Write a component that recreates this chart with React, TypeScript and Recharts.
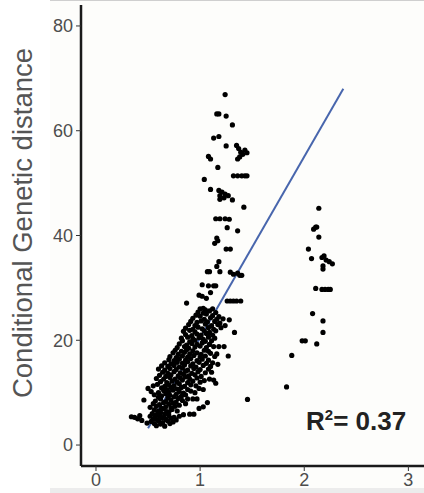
import { ScatterChart, Scatter, XAxis, YAxis, ReferenceLine, Customized } from 'recharts'

// dense lower cluster along the fit line
const lowerCluster: [number, number][] = [
  [0.58, 3.7], [0.62, 4.0], [0.66, 3.6], [0.71, 4.1], [0.49, 4.2], [0.53, 4.5], [0.56, 4.1], [0.6, 4.6], [0.64, 4.3], [0.69, 4.6], [0.74, 4.4],
  [0.4, 5.0], [0.44, 4.7], [0.55, 5.0], [0.59, 4.8], [0.63, 5.2], [0.67, 4.9], [0.72, 5.1], [0.77, 4.8], [0.34, 5.4], [0.37, 5.3],
  [0.42, 5.6], [0.52, 5.5], [0.57, 5.4], [0.61, 5.6], [0.65, 5.3], [0.7, 5.6], [0.75, 5.3], [0.8, 5.5],
  [0.54, 6.0], [0.58, 5.8], [0.62, 6.2], [0.66, 5.9], [0.7, 6.3], [0.84, 5.8], [0.9, 5.9], [0.94, 5.9], [0.56, 6.7], [0.6, 6.5],
  [0.65, 6.9], [0.68, 6.4], [0.73, 6.8], [0.78, 6.5], [0.52, 7.2], [0.58, 7.4], [0.63, 7.0], [0.67, 7.3], [0.72, 7.1], [0.76, 7.4],
  [0.99, 7.0], [1.03, 7.3],
  [0.55, 7.9], [0.61, 7.7], [0.65, 8.1], [0.7, 7.8], [0.74, 8.0], [0.8, 7.6], [0.86, 7.9], [0.46, 8.6], [0.57, 8.4], [0.62, 8.8],
  [0.67, 8.3], [0.72, 8.6], [0.77, 8.2], [0.83, 8.5], [1.07, 8.1], [0.6, 9.1], [0.69, 9.0], [0.75, 9.2], [0.79, 8.9], [0.88, 8.8],
  [0.93, 8.8], [0.97, 8.8],
  [0.56, 9.6], [0.63, 9.4], [0.67, 9.8], [0.71, 9.5], [0.77, 9.7], [0.82, 9.3], [0.86, 9.6], [0.53, 10.2], [0.6, 10.0], [0.65, 10.4],
  [0.7, 10.1], [0.74, 10.5], [0.8, 10.2], [0.84, 9.9], [0.91, 10.3], [0.95, 10.0], [0.5, 10.8], [0.63, 10.9], [0.68, 10.6], [0.72, 11.0],
  [0.78, 10.7], [0.82, 11.0], [0.88, 10.6], [0.99, 10.8], [1.03, 10.6],
  [0.55, 11.3], [0.59, 11.6], [0.66, 11.2], [0.7, 11.5], [0.75, 11.3], [0.8, 11.7], [0.85, 11.2], [0.91, 11.5], [0.96, 11.3], [1.15, 11.8],
  [0.62, 12.1], [0.68, 11.9], [0.73, 12.2], [0.78, 12.0], [0.83, 12.4], [0.88, 11.9], [0.93, 12.2], [1.0, 12.0], [1.04, 12.3], [1.13, 12.4],
  [0.58, 12.7], [0.65, 12.6], [0.71, 12.9], [0.76, 12.6], [0.81, 12.8], [0.86, 13.0], [0.9, 12.6], [0.97, 12.8], [1.09, 12.6],
  [0.61, 13.3], [0.67, 13.1], [0.72, 13.4], [0.79, 13.2], [0.84, 13.5], [0.89, 13.2], [0.95, 13.4], [1.01, 13.1], [0.64, 13.9], [0.69, 13.7],
  [0.75, 14.0], [0.81, 13.8], [0.86, 14.1], [0.92, 13.7], [0.98, 14.0], [1.05, 13.8], [1.11, 13.9], [0.6, 14.5], [0.66, 14.3], [0.71, 14.6],
  [0.77, 14.4], [0.83, 14.7], [0.88, 14.3], [0.94, 14.6], [1.0, 14.4], [1.08, 14.5],
  [0.63, 15.1], [0.69, 15.0], [0.75, 15.2], [0.8, 14.9], [0.85, 15.3], [0.91, 15.1], [0.96, 14.9], [1.03, 15.2], [1.1, 15.0], [0.66, 15.7],
  [0.72, 15.5], [0.78, 15.8], [0.83, 15.6], [0.88, 15.9], [0.93, 15.5], [0.99, 15.8], [1.06, 15.6], [1.12, 15.7], [1.17, 15.4], [0.7, 16.3],
  [0.75, 16.1], [0.8, 16.4], [0.86, 16.2], [0.91, 16.5], [0.97, 16.1], [1.02, 16.4], [1.08, 16.2],
  [0.71, 16.9], [0.77, 16.7], [0.83, 17.0], [0.88, 16.8], [0.94, 17.1], [1.0, 16.8], [1.05, 17.0], [1.14, 16.9], [0.74, 17.6], [0.79, 17.3],
  [0.85, 17.7], [0.9, 17.4], [0.97, 17.6], [1.01, 17.3], [1.1, 17.5], [1.16, 17.4], [0.76, 18.1], [0.82, 17.9], [0.87, 18.2], [0.93, 18.0],
  [1.04, 18.1], [1.08, 17.9],
  [0.78, 18.6], [0.85, 18.8], [0.89, 18.5], [0.95, 18.7], [1.0, 18.9], [1.06, 18.6], [1.13, 18.8], [1.18, 18.8], [1.23, 18.8], [0.8, 19.3],
  [0.87, 19.1], [0.92, 19.4], [0.97, 19.2], [1.02, 19.5], [1.09, 19.2], [0.83, 19.9], [0.9, 19.7], [0.95, 20.0], [1.05, 19.8], [1.11, 19.9],
  [0.82, 20.4], [0.88, 20.6], [0.93, 20.3], [0.99, 20.5], [1.03, 20.2], [1.08, 20.6], [1.14, 20.4], [0.86, 21.1], [0.92, 20.9], [0.97, 21.2],
  [1.01, 21.0], [1.06, 21.3], [1.12, 21.0], [0.84, 21.7], [0.9, 21.9], [0.95, 21.6], [1.04, 21.8], [1.09, 21.5], [1.15, 21.8],
  [0.86, 22.3], [0.93, 22.1], [0.98, 22.5], [1.02, 22.2], [1.08, 22.4], [1.13, 22.1], [1.2, 22.4], [0.89, 23.0], [0.95, 22.8], [1.05, 23.1],
  [1.11, 22.8], [1.17, 23.0], [1.24, 22.8], [0.91, 23.6], [0.97, 23.4], [1.01, 23.7], [1.07, 23.5], [1.14, 23.6], [1.19, 23.3], [0.93, 24.2],
  [1.04, 24.0], [1.1, 24.3], [1.16, 24.0], [1.22, 24.1], [1.28, 23.9], [0.96, 24.8], [1.0, 24.6], [1.06, 25.0], [1.12, 24.7], [1.18, 24.5],
  [0.98, 25.4], [1.03, 25.2], [1.09, 25.6], [1.15, 25.3], [1.0, 26.0], [1.05, 25.8], [1.12, 26.0],
]

// vertical arm above the cluster (x ~1.0-1.45)
const upperArm: [number, number][] = [
  [1.24, 66.9], [1.16, 63.2], [1.18, 63.2], [1.25, 62.8], [1.31, 61.1], [1.13, 58.6], [1.18, 58.9], [1.25, 57.1],
  [1.35, 57.2], [1.37, 56.6], [1.39, 55.9], [1.41, 55.5], [1.38, 55.0], [1.43, 56.3], [1.45, 55.8], [1.36, 54.6],
  [1.08, 55.1], [1.1, 54.6], [1.17, 53.0],
  [1.32, 51.4], [1.36, 51.4], [1.4, 51.4], [1.43, 51.4], [1.45, 51.4],
  [1.04, 50.7], [1.1, 48.8],
  [1.18, 48.6], [1.21, 48.3], [1.19, 47.6], [1.24, 47.9], [1.27, 47.6], [1.19, 46.9], [1.23, 47.2],
  [1.31, 46.8], [1.42, 45.4],
  [1.15, 43.2], [1.19, 43.2], [1.24, 43.2], [1.28, 43.1],
  [1.26, 41.5], [1.36, 40.9], [1.16, 39.5], [1.17, 39.0], [1.14, 38.5],
  [1.25, 37.4], [1.29, 37.4],
  [1.18, 35.0], [1.16, 34.1], [1.19, 33.1], [1.07, 33.1], [1.09, 33.1],
  [1.29, 33.0], [1.32, 32.6], [1.36, 32.8], [1.38, 32.4], [1.4, 32.4],
  [1.02, 30.6], [1.08, 30.4], [1.13, 30.4], [1.15, 30.4], [1.1, 29.1], [0.99, 28.6], [1.02, 28.4], [1.06, 28.0],
  [1.26, 27.5], [1.29, 27.5], [1.32, 27.5], [1.35, 27.5], [1.39, 27.5],
  [0.87, 27.1], [1.03, 26.1],
]

// separate group around x ~2
const rightGroup: [number, number][] = [
  [2.14, 45.2], [2.11, 41.6], [2.12, 41.6], [2.09, 41.2], [2.14, 39.7], [2.04, 37.4], [2.07, 35.6],
  [2.17, 35.8], [2.19, 36.1], [2.21, 35.3], [2.24, 35.0], [2.27, 34.6], [2.18, 34.2], [2.18, 33.6],
  [2.11, 29.9], [2.17, 29.7], [2.2, 29.7], [2.23, 29.7], [2.25, 29.7],
  [2.08, 25.1], [2.18, 23.7], [2.18, 21.5], [1.98, 19.9], [2.01, 19.9], [2.12, 19.3], [1.88, 17.1], [1.83, 11.1],
]

const outliers: [number, number][] = [[1.455, 8.7], [1.33, 21.5], [1.27, 17.0]]

const fitLine = [{ x: 0.5, y: 3.2 }, { x: 2.375, y: 68 }]
const xTicks = [0, 1, 2, 3]
const yTicks = [0, 20, 40, 60, 80]

const points = [...lowerCluster, ...upperArm, ...rightGroup, ...outliers].map(([x, y]) => ({ x, y }))

const tickStyle = { fontSize: 18, fill: '#4d4d4d', fontFamily: 'Liberation Sans, Arial, sans-serif' }

function Labels() {
  return (
    <g fontFamily="Liberation Sans, Arial, sans-serif">
      <text transform="translate(32,223) rotate(-90)" textAnchor="middle" fontSize={27.5} fill="#555">
        Conditional Genetic distance
      </text>
      <text x={306} y={430} fontSize={26} fontWeight="bold" fill="#222">
        R<tspan fontSize={15} dy={-10}>2</tspan><tspan dy={10}>= 0.37</tspan>
      </text>
    </g>
  )
}

export default function App() {
  return (
    <div style={{ position: 'absolute', left: 0, top: 0, width: 424, height: 493, background: '#fff' }}>
      <div style={{ position: 'absolute', left: 50, top: 0, right: 0, bottom: 5, background: '#fdfdfb', borderTop: '1px solid #cfcfcf' }} />
      <div style={{ position: 'absolute', left: 50, right: 0, bottom: 0, height: 5, background: '#ececec' }} />
      <div style={{ position: 'absolute', left: 0, top: 0 }}>
        <ScatterChart width={424} height={493} margin={{ top: 5, right: 0, left: 0, bottom: 0 }}>
          <XAxis
            type="number"
            dataKey="x"
            domain={[-0.144, 3.15]}
            ticks={xTicks}
            allowDataOverflow
            height={27}
            axisLine={{ stroke: '#1a1a1a', strokeWidth: 2.5 }}
            tickLine={{ stroke: '#333' }}
            tickSize={5}
            tickMargin={2}
            tick={tickStyle}
          />
          <YAxis
            type="number"
            dataKey="y"
            domain={[-4, 84]}
            ticks={yTicks}
            allowDataOverflow
            width={81}
            axisLine={{ stroke: '#1a1a1a', strokeWidth: 2.5 }}
            tickLine={{ stroke: '#333' }}
            tickSize={5}
            tickMargin={3}
            tick={tickStyle}
          />
          <Scatter
            data={points}
            isAnimationActive={false}
            shape={(p: any) => <circle cx={p.cx} cy={p.cy} r={2.6} fill="#000" />}
          />
          <ReferenceLine segment={fitLine} stroke="#4866ad" strokeWidth={2} />
          <Customized component={Labels} />
        </ScatterChart>
      </div>
    </div>
  )
}
